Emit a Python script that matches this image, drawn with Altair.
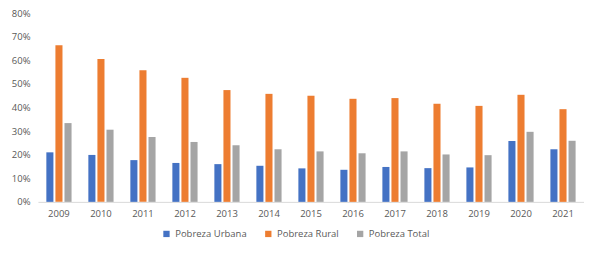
import altair as alt
import pandas as pd

years = ["2009", "2010", "2011", "2012", "2013", "2014", "2015", "2016", "2017", "2018", "2019", "2020", "2021"]
urbana = [0.210, 0.199, 0.177, 0.165, 0.160, 0.153, 0.142, 0.136, 0.148, 0.143, 0.146, 0.258, 0.223]
rural = [0.664, 0.606, 0.558, 0.526, 0.474, 0.458, 0.450, 0.437, 0.440, 0.416, 0.407, 0.454, 0.393]
total = [0.334, 0.306, 0.275, 0.254, 0.240, 0.223, 0.214, 0.206, 0.214, 0.201, 0.198, 0.297, 0.259]
series = ["Pobreza Urbana", "Pobreza Rural", "Pobreza Total"]
colors = ["#4472C4", "#ED7D31", "#A5A5A5"]

rows = []
for name, vals in zip(series, [urbana, rural, total]):
    for y, v in zip(years, vals):
        rows.append({"year": y, "serie": name, "value": v})
df = pd.DataFrame(rows)

font = "Open Sans"
txt = "#595959"

chart = alt.Chart(df).mark_bar().encode(
    x=alt.X("year:N", sort=years, title=None,
            scale=alt.Scale(paddingInner=0.4, paddingOuter=0.2),
            axis=alt.Axis(labelAngle=0, ticks=False, domainColor="#D9D9D9",
                          labelColor=txt, labelFont=font, labelFontSize=9.5,
                          labelPadding=7, grid=False)),
    xOffset=alt.XOffset("serie:N", sort=series, scale=alt.Scale(paddingInner=0.22)),
    y=alt.Y("value:Q", title=None,
            scale=alt.Scale(domain=[0, 0.8]),
            axis=alt.Axis(format=".0%", values=[i / 10 for i in range(9)], grid=False,
                          domain=False, ticks=False, labelColor=txt, labelFont=font,
                          labelFontSize=9.5, labelPadding=8, minExtent=30, maxExtent=30)),
    color=alt.Color("serie:N", sort=series, title=None,
                    scale=alt.Scale(domain=series, range=colors),
                    legend=alt.Legend(orient="none", direction="horizontal",
                                      legendX=124, legendY=216,
                                      symbolType="square", symbolSize=40,
                                      symbolStrokeWidth=0,
                                      labelColor=txt, labelFont=font, labelFontSize=9.5,
                                      columnPadding=16)),
).properties(width=547, height=189, padding=0).configure_view(stroke=None)

chart.save("out.html", embed_options={"renderer": "svg", "actions": False})
